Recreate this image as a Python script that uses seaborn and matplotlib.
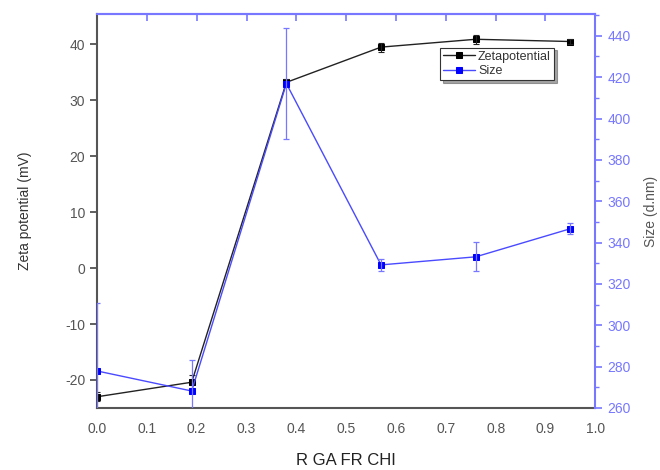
import numpy as np
import pandas as pd
import matplotlib
matplotlib.use("Agg")
import matplotlib.pyplot as plt
import seaborn as sns
from matplotlib.ticker import MultipleLocator

sns.set_style("white")
plt.rcParams['font.family'] = ['Liberation Sans', 'DejaVu Sans']
plt.rcParams['axes.unicode_minus'] = False

x_vals = [0.0, 0.19, 0.38, 0.57, 0.76, 0.95]
zeta = [-23.0, -20.4, 33.2, 39.5, 40.9, 40.5]
zeta_err = [0.8, 1.3, 0.6, 0.8, 0.8, 0.5]
size = [277.9, 268.2, 416.9, 329.2, 333.1, 346.7]
size_err = [33.0, 15.0, 26.7, 2.8, 7.0, 2.8]

df = pd.DataFrame({"x": x_vals, "zeta": zeta, "zeta_err": zeta_err,
                   "size": size, "size_err": size_err})

blue = "#0000ff"
lineblue = "#4a4aff"
lblue = "#7777ff"
gray = "#555555"

fig = plt.figure(figsize=(6.6, 4.7), dpi=100)
ax = fig.add_axes([0.147, 0.132, 0.755, 0.838])
ax2 = ax.twinx()

sns.lineplot(data=df, x="x", y="zeta", ax=ax, color="#222222", lw=1.0,
             marker="s", markersize=5, markeredgecolor="black", markerfacecolor="black",
             label="Zetapotential", legend=False)
ax.errorbar(df["x"], df["zeta"], yerr=df["zeta_err"], fmt="none", ecolor="#222222",
            elinewidth=0.8, capsize=2.5, capthick=0.8)

sns.lineplot(data=df, x="x", y="size", ax=ax2, color=lineblue, lw=1.0, alpha=1,
             marker="s", markersize=5, markeredgecolor=blue, markerfacecolor=blue,
             label="Size", legend=False)
ax2.errorbar(df["x"], df["size"], yerr=df["size_err"], fmt="none", ecolor=lblue,
             elinewidth=0.9, capsize=2.5, capthick=0.9)

ax.set_xlim(0, 1.0)
ax.set_ylim(-25, 45.4)
ax2.set_ylim(260, 450.5)

ax.xaxis.set_major_locator(MultipleLocator(0.1))
ax.yaxis.set_major_locator(MultipleLocator(10))
ax2.yaxis.set_major_locator(MultipleLocator(20))
ax2.yaxis.set_minor_locator(MultipleLocator(10))

ax.set_xlabel("R GA FR CHI", fontsize=12, color="#222222", labelpad=12)
ax.set_ylabel("Zeta potential (mV)", fontsize=10, color="#333333", labelpad=24)
ax2.set_ylabel("Size (d.nm)", fontsize=10, color=gray, labelpad=10)

ax.tick_params(axis="x", direction="inout", length=8, width=1.2, colors="#444444",
               labelcolor=gray, labelsize=10, pad=6, top=False)
ax.tick_params(axis="y", direction="out", length=5, width=1.2, colors="#444444",
               labelcolor=gray, labelsize=10, left=True)
ax2.tick_params(axis="y", which="major", direction="out", length=5, width=1.2,
                colors=lblue, labelcolor=lblue, labelsize=10, right=True)
ax2.tick_params(axis="y", which="minor", direction="out", length=3, width=1.0,
                colors=lblue, right=True)
ax2.tick_params(axis="x", top=False, bottom=False)

# top spine ticks pointing inward
secx = ax.secondary_xaxis("top")
secx.xaxis.set_major_locator(MultipleLocator(0.1))
secx.tick_params(axis="x", direction="in", length=5, width=1.2, colors=lblue,
                 labeltop=False)
secx.spines["top"].set_color(lblue)
secx.spines["top"].set_linewidth(1.5)

for sp in ["left", "bottom"]:
    ax.spines[sp].set_color("#555555")
    ax.spines[sp].set_linewidth(1.5)
ax.spines["top"].set_visible(False)
ax.spines["right"].set_visible(False)
ax2.spines["left"].set_visible(False)
ax2.spines["bottom"].set_visible(False)
ax2.spines["top"].set_color(lblue)
ax2.spines["top"].set_linewidth(1.5)
ax2.spines["right"].set_color(lblue)
ax2.spines["right"].set_linewidth(1.5)

h1, l1 = ax.get_legend_handles_labels()
h2, l2 = ax2.get_legend_handles_labels()
leg = ax2.legend(h1 + h2, l1 + l2, loc="upper left", bbox_to_anchor=(0.688, 0.915),
                 fontsize=9, frameon=True, fancybox=False, shadow=True,
                 handlelength=2.6, borderpad=0.25, labelspacing=0.2,
                 handletextpad=0.2, borderaxespad=0)
leg.get_frame().set_edgecolor("#333333")
leg.get_frame().set_linewidth(0.8)
for t in leg.get_texts():
    t.set_color("#333333")

fig.savefig("out.png", dpi=100)
